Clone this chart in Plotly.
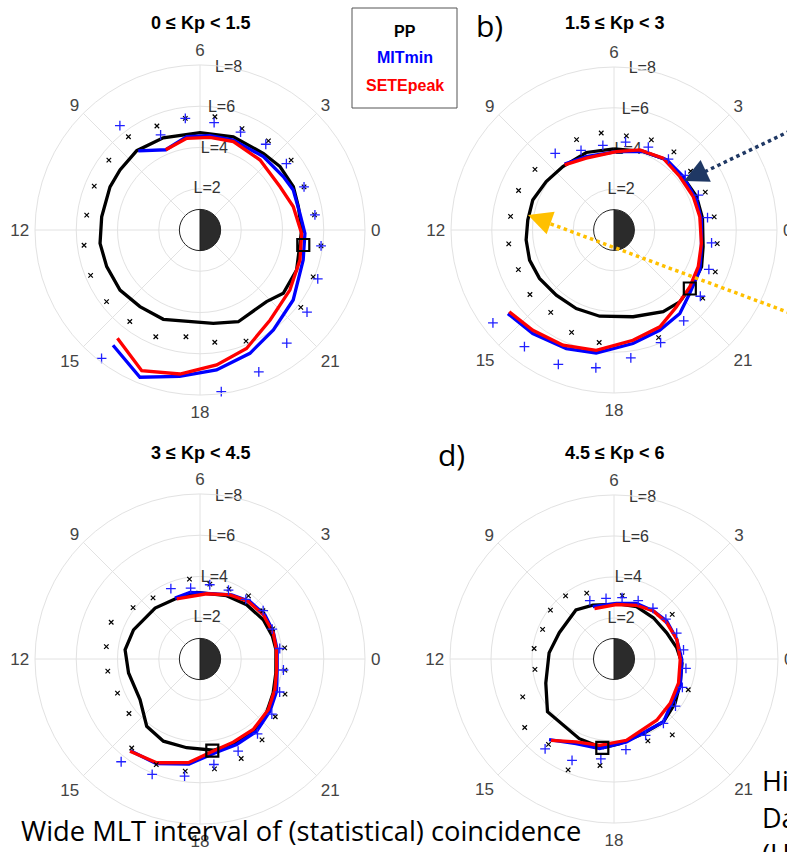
import plotly.graph_objects as go

W, H = 787, 852

# ---------------- DATA (MLT hours, L-shell) ----------------
titles = ["0 \u2264 Kp < 1.5", "1.5 \u2264 Kp < 3", "3 \u2264 Kp < 4.5", "4.5 \u2264 Kp < 6"]
mlt_tick_vals = [0, 3, 6, 9, 12, 15, 18, 21]
mlt_tick_text = ["0", "3", "6", "9", "12", "15", "18", "21"]
L_ticks = [2, 4, 6, 8]
L_tick_text = ["L=2", "L=4", "L=6", "L=8"]

# Panel a
pp_a_mlt = [0, 0.89, 1.66, 2.56, 3.35, 4.69, 6.0, 7.45, 8.57, 9.54, 10.29, 11.49, 12.51, 13.43, 14.46, 15.46, 16.51, 18.54, 19.51, 20.86, 21.52, 22.5, 24]
pp_a_L = [4.93, 4.9, 4.99, 4.95, 4.82, 4.8, 4.72, 4.81, 4.92, 4.85, 4.84, 4.81, 4.89, 4.86, 4.85, 4.72, 4.68, 4.57, 4.82, 4.74, 5.07, 5.07, 4.93]
mit_a_mlt = [8.53, 7.54, 6.54, 5.6, 4.65, 3.28, 2.17, 1.55, 0.63, 23.88, 22.92, 21.54, 20.42, 19.47, 18.45, 17.47, 16.52, 15.53]
mit_a_L = [4.87, 4.23, 4.57, 4.6, 4.65, 4.7, 4.8, 4.92, 4.91, 5.09, 5.21, 5.65, 6.01, 6.45, 6.83, 7.17, 7.71, 7.0]
sete_a_mlt = [7.54, 6.55, 5.59, 4.62, 3.29, 1.89, 0.94, 23.87, 22.89, 21.75, 20.53, 19.43, 18.47, 17.47, 16.5, 15.51]
sete_a_L = [4.23, 4.49, 4.52, 4.58, 4.47, 4.41, 4.66, 4.93, 5.06, 5.24, 5.53, 6.17, 6.59, 7.05, 7.38, 6.6]
ppx_a_mlt = [0.5, 1.5, 2.5, 3.5, 4.5, 5.5, 6.5, 7.5, 8.5, 9.5, 10.5, 11.5, 12.5, 13.5, 14.5, 15.5, 16.5, 17.5, 18.5, 19.5, 21.5, 22.5, 23.5]
ppx_a_L = [5.6, 5.46, 5.57, 5.45, 5.32, 5.54, 5.46, 5.46, 5.7, 5.57, 5.55, 5.54, 5.67, 5.74, 5.71, 5.59, 5.6, 5.22, 5.49, 5.83, 6.16, 5.94, 5.92]
mitp_a_mlt = [0.5, 1.5, 2.5, 3.5, 4.5, 5.5, 6.5, 7.5, 8.5, 15.5, 18.5, 19.5, 20.5, 21.5, 22.5, 23.5]
mitp_a_L = [5.62, 5.46, 5.28, 5.24, 5.14, 5.25, 5.46, 4.99, 6.38, 7.84, 7.9, 7.45, 6.91, 6.54, 6.18, 5.92]
sq_a = (23.45, 5.06)

# Panel b
pp_b_mlt = [6.0, 4.65, 3.55, 2.35, 1.47, 0.5, 23.29, 22.48, 21.73, 20.83, 20.07, 18.83, 17.37, 16.29, 15.23, 14.2, 13.31, 12.43, 11.56, 10.65, 9.63, 8.59, 7.31, 6.0]
pp_b_L = [3.98, 4.11, 4.3, 4.26, 4.37, 4.38, 4.45, 4.66, 4.69, 4.78, 4.68, 4.36, 4.29, 4.28, 4.27, 4.36, 4.4, 4.34, 4.26, 4.25, 4.09, 4.0, 4.04, 3.98]
mit_b_mlt = [14.55, 15.46, 16.54, 17.45, 18.63, 19.63, 20.55, 21.33, 22.33, 23.28, 0.44, 1.33, 2.51, 3.55, 4.65, 5.89, 7.38, 8.46]
mit_b_L = [6.63, 6.46, 6.27, 6.1, 5.65, 5.41, 5.22, 4.85, 4.65, 4.37, 4.32, 4.31, 4.29, 4.3, 4.11, 3.85, 3.85, 4.04]
sete_b_mlt = [14.53, 15.4, 16.41, 17.44, 18.65, 19.69, 20.6, 21.55, 22.43, 23.42, 0.59, 1.53, 2.61, 3.71, 4.81, 5.89, 7.41, 8.48]
sete_b_L = [6.52, 6.33, 6.18, 5.97, 5.49, 5.26, 4.86, 4.65, 4.51, 4.34, 4.26, 4.22, 4.16, 4.27, 4.13, 3.85, 3.78, 4.01]
ppx_b_mlt = [0.5, 1.5, 2.5, 3.5, 4.5, 5.5, 6.5, 7.5, 9.5, 10.5, 11.5, 12.5, 13.5, 14.5, 15.5, 16.5, 17.5, 19.5, 21.5, 22.5, 23.5]
ppx_b_L = [4.96, 4.85, 4.74, 4.83, 4.79, 4.66, 4.8, 4.8, 4.89, 5.07, 5.12, 5.21, 5.08, 5.2, 5.1, 5.44, 5.57, 5.72, 5.49, 5.38, 5.11]
mitp_b_mlt = [0.5, 1.5, 2.5, 3.5, 4.5, 5.5, 6.5, 7.5, 8.5, 14.5, 15.5, 16.5, 17.5, 18.5, 19.5, 20.5, 21.5, 22.5, 23.5]
mitp_b_L = [4.63, 4.48, 4.41, 4.39, 4.4, 4.35, 4.19, 4.23, 4.74, 7.49, 7.22, 7.14, 6.82, 6.33, 5.98, 5.62, 5.34, 5.04, 4.83]
sq_b = (21.49, 4.7)

# Panel c
pp_c_mlt = [18.55, 17.43, 16.4, 15.44, 14.27, 12.74, 11.53, 10.42, 8.76, 7.51, 6.19, 4.48, 3.29, 2.12, 1.16, 0.47, 23.3, 22.34, 21.4, 20.43, 19.42, 18.55]
pp_c_L = [4.47, 4.35, 4.36, 4.16, 3.51, 3.53, 3.66, 3.52, 3.29, 3.15, 3.23, 3.33, 3.47, 3.61, 3.68, 3.71, 3.74, 3.91, 4.15, 4.35, 4.45, 4.47]
mit_c_mlt = [15.52, 16.49, 17.6, 18.67, 19.55, 20.54, 21.55, 22.47, 23.47, 0.46, 1.38, 2.29, 3.27, 4.25, 5.61, 6.57, 7.49]
mit_c_L = [5.58, 5.5, 5.12, 4.59, 4.51, 4.45, 4.23, 4.03, 3.78, 3.77, 3.79, 3.81, 3.69, 3.47, 3.2, 3.26, 3.19]
sete_c_mlt = [15.52, 16.49, 17.57, 18.55, 19.45, 20.47, 21.56, 22.52, 23.47, 0.46, 1.3, 2.33, 3.33, 4.33, 5.61, 7.41]
sete_c_L = [5.61, 5.45, 5.06, 4.51, 4.34, 4.28, 4.12, 3.92, 3.75, 3.73, 3.77, 3.74, 3.64, 3.43, 3.18, 3.13]
ppx_c_mlt = [0.5, 1.5, 2.5, 3.5, 4.5, 5.5, 6.5, 8.5, 9.5, 10.5, 11.5, 12.5, 13.5, 14.5, 15.5, 16.5, 17.5, 18.5, 19.5, 20.5, 21.5, 22.5, 23.5]
ppx_c_L = [4.14, 3.81, 3.84, 3.86, 3.67, 3.66, 3.91, 3.74, 4.09, 4.66, 4.58, 4.51, 4.33, 4.34, 5.44, 5.54, 5.48, 5.37, 5.22, 4.94, 4.6, 4.46, 4.15]
mitp_c_mlt = [0.5, 1.5, 2.5, 3.5, 4.5, 5.5, 6.5, 7.5, 15.5, 16.5, 17.5, 18.5, 19.5, 20.5, 21.5, 22.5, 23.5]
mitp_c_L = [3.9, 3.79, 3.86, 3.65, 3.61, 3.63, 3.47, 3.69, 6.28, 6.06, 5.73, 5.16, 4.83, 4.58, 4.39, 4.18, 4.08]
sq_c = (18.51, 4.48)

# Panel d
pp_d_mlt = [17.5, 16.43, 14.56, 13.3, 11.64, 10.29, 8.52, 7.43, 5.6, 4.45, 3.09, 1.76, 0.67, 23.77, 22.66, 21.6, 20.55, 19.43, 18.26, 17.5]
pp_d_L = [4.37, 4.24, 4.14, 3.53, 3.18, 2.96, 3.03, 2.82, 2.69, 2.78, 2.78, 2.87, 3.11, 3.32, 3.44, 3.68, 3.9, 3.91, 4.14, 4.37]
mit_d_mlt = [15.41, 16.39, 17.39, 18.57, 20.55, 21.31, 22.49, 23.96, 1.15, 2.38, 3.38, 4.53, 5.84, 7.47]
mit_d_L = [5.05, 4.53, 4.43, 4.09, 3.9, 3.59, 3.5, 3.31, 3.21, 3.17, 3.03, 2.92, 2.71, 2.76]
sete_d_mlt = [15.48, 16.36, 17.37, 18.58, 20.33, 21.45, 22.63, 23.96, 1.15, 2.3, 3.38, 4.49, 5.83, 7.41]
sete_d_L = [5.02, 4.45, 4.27, 4.01, 3.64, 3.49, 3.36, 3.23, 3.21, 3.12, 3.03, 2.84, 2.66, 2.64]
ppx_d_mlt = [2.5, 5.5, 7.5, 8.5, 9.5, 10.5, 11.5, 12.5, 13.5, 14.5, 15.5, 16.5, 17.5, 19.5, 20.5, 22.5]
ppx_d_L = [3.58, 3.11, 3.48, 3.88, 3.91, 3.77, 3.93, 3.89, 4.82, 5.49, 5.25, 5.85, 5.24, 4.32, 4.67, 3.92]
mitp_d_mlt = [0.5, 1.5, 2.5, 3.5, 4.5, 5.5, 6.5, 7.5, 15.5, 16.5, 17.5, 18.5, 19.5, 20.5, 21.5, 22.5, 23.5]
mitp_d_L = [3.42, 3.31, 3.19, 3.12, 3.08, 3.02, 2.98, 3.08, 5.52, 5.35, 4.91, 4.46, 4.03, 3.96, 3.78, 3.61, 3.54]
sq_d = (17.5, 4.37)

# Earth symbol: night half (centred at MLT 0) and day half (centred at MLT 12)
earth_mlt = [0, 12]
earth_L = [1, 1]
earth_width_h = [12, 12]

# ---------------- FIGURE ----------------
def deg(m):
    return [v * 15 for v in m]

panels = [
    dict(pp=(pp_a_mlt, pp_a_L), mit=(mit_a_mlt, mit_a_L), sete=(sete_a_mlt, sete_a_L),
         ppx=(ppx_a_mlt, ppx_a_L), mitp=(mitp_a_mlt, mitp_a_L), sq=sq_a, cx=200, cy=230, R=165, ty=23),
    dict(pp=(pp_b_mlt, pp_b_L), mit=(mit_b_mlt, mit_b_L), sete=(sete_b_mlt, sete_b_L),
         ppx=(ppx_b_mlt, ppx_b_L), mitp=(mitp_b_mlt, mitp_b_L), sq=sq_b, cx=614, cy=230, R=163, ty=23),
    dict(pp=(pp_c_mlt, pp_c_L), mit=(mit_c_mlt, mit_c_L), sete=(sete_c_mlt, sete_c_L),
         ppx=(ppx_c_mlt, ppx_c_L), mitp=(mitp_c_mlt, mitp_c_L), sq=sq_c, cx=200, cy=659, R=165, ty=453),
    dict(pp=(pp_d_mlt, pp_d_L), mit=(mit_d_mlt, mit_d_L), sete=(sete_d_mlt, sete_d_L),
         ppx=(ppx_d_mlt, ppx_d_L), mitp=(mitp_d_mlt, mitp_d_L), sq=sq_d, cx=614, cy=659, R=164, ty=453),
]

fig = go.Figure()
grid = "#e2e2e2"
layout_polars = {}
annotations = []

for i, p in enumerate(panels):
    key = "polar" if i == 0 else f"polar{i+1}"
    sp = key
    cx, cy, R = p["cx"], p["cy"], p["R"]
    layout_polars[key] = dict(
        domain=dict(x=[(cx - R) / W, (cx + R) / W], y=[1 - (cy + R) / H, 1 - (cy - R) / H]),
        bgcolor="rgba(0,0,0,0)",
        bargap=0,
        barmode="overlay",
        radialaxis=dict(range=[0, 8], tickvals=L_ticks, showticklabels=False, showline=False,
                        ticks="", gridcolor=grid, gridwidth=1),
        angularaxis=dict(rotation=0, direction="counterclockwise", tickmode="array",
                         tickvals=deg(mlt_tick_vals), ticktext=mlt_tick_text,
                         gridcolor=grid, gridwidth=1, linecolor=grid, linewidth=1, showline=True,
                         ticks="outside", ticklen=2, tickcolor="rgba(0,0,0,0)",
                         tickfont=dict(size=17, color="#444", family="Liberation Sans, Arial")),
    )
    # L labels
    fig.add_trace(go.Scatterpolar(r=L_ticks, theta=[80] * len(L_ticks), text=L_tick_text, mode="text",
                                  textfont=dict(size=16, color="#333", family="Liberation Sans, Arial"),
                                  subplot=sp, showlegend=False, hoverinfo="skip"))
    # Earth symbol
    fig.add_trace(go.Barpolar(r=earth_L, theta=deg(earth_mlt), width=deg(earth_width_h),
                              marker=dict(color=["#2b2b2b", "white"], line=dict(color="#222", width=1)),
                              subplot=sp, showlegend=False, hoverinfo="skip"))
    # curves
    for (m, L), col in [(p["pp"], "black"), (p["mit"], "#0000ff"), (p["sete"], "#ff0000")]:
        fig.add_trace(go.Scatterpolar(r=L, theta=deg(m), mode="lines",
                                      line=dict(color=col, width=3.3),
                                      subplot=sp, showlegend=False, hoverinfo="skip"))
    # markers
    m, L = p["ppx"]
    fig.add_trace(go.Scatterpolar(r=L, theta=deg(m), mode="markers",
                                  marker=dict(symbol="x-thin", size=4.5, color="black",
                                              line=dict(color="black", width=1.2)),
                                  subplot=sp, showlegend=False, hoverinfo="skip"))
    m, L = p["mitp"]
    fig.add_trace(go.Scatterpolar(r=L, theta=deg(m), mode="markers",
                                  marker=dict(symbol="cross-thin", size=7, color="#2020ff",
                                              line=dict(color="#2020ff", width=1.3)),
                                  subplot=sp, showlegend=False, hoverinfo="skip"))
    fig.add_trace(go.Scatterpolar(r=[p["sq"][1]], theta=deg([p["sq"][0]]), mode="markers",
                                  marker=dict(symbol="square-open", size=12, color="black",
                                              line=dict(color="black", width=2.2)),
                                  subplot=sp, showlegend=False, hoverinfo="skip"))
    annotations.append(dict(x=cx / W, y=1 - p["ty"] / H, xref="paper", yref="paper",
                            text="<b>" + titles[i] + "</b>", showarrow=False,
                            font=dict(size=18, color="black", family="Liberation Sans, Arial"),
                            xanchor="center", yanchor="middle"))

def px(x):
    return x / W

def py(y):
    return 1 - y / H

# panel letters
annotations.append(dict(x=px(490), y=py(25), text="b)", showarrow=False, xref="paper", yref="paper",
                        font=dict(size=30, color="black", family="Open Sans"), xanchor="center", yanchor="middle"))
annotations.append(dict(x=px(451), y=py(454), text="d)", showarrow=False, xref="paper", yref="paper",
                        font=dict(size=30, color="black", family="Open Sans"), xanchor="center", yanchor="middle"))

# legend box texts
for txt, col, yy in [("PP", "black", 32), ("MITmin", "#0000ff", 58), ("SETEpeak", "#ff0000", 85)]:
    annotations.append(dict(x=px(405), y=py(yy), text="<b>" + txt + "</b>", showarrow=False,
                            xref="paper", yref="paper", xanchor="center", yanchor="middle",
                            font=dict(size=16, color=col, family="Liberation Sans, Arial")))

# slide texts
annotations.append(dict(x=px(19), y=py(830), text="Wide MLT interval of (statistical) coincidence",
                        showarrow=False, xref="paper", yref="paper", xanchor="left", yanchor="middle",
                        font=dict(size=27.3, color="black", family="Open Sans")))
for txt, yy in [("Hi", 780), ("Da", 817), ("(H", 854)]:
    annotations.append(dict(x=px(760), y=py(yy), text=txt, showarrow=False, xref="paper", yref="paper",
                            xanchor="left", yanchor="middle",
                            font=dict(size=27, color="black", family="Open Sans")))

# arrowheads
annotations.append(dict(x=px(684), y=py(181), ax=17, ay=-8, text="", showarrow=True, xref="paper", yref="paper",
                        arrowhead=2, arrowsize=1.6, arrowwidth=3, arrowcolor="#1f3864"))
annotations.append(dict(x=px(528), y=py(215), ax=17, ay=6, text="", showarrow=True, xref="paper", yref="paper",
                        arrowhead=2, arrowsize=1.6, arrowwidth=3, arrowcolor="#ffc000"))

shapes = [
    dict(type="rect", xref="paper", yref="paper", x0=px(352), x1=px(457), y0=py(108), y1=py(8),
         line=dict(color="#555", width=1), fillcolor="white", layer="above"),
    dict(type="line", xref="paper", yref="paper", x0=px(790), y0=py(131), x1=px(698), y1=py(175),
         line=dict(color="#1f3864", width=3.5, dash="dot")),
    dict(type="line", xref="paper", yref="paper", x0=px(790), y0=py(313), x1=px(543), y1=py(221),
         line=dict(color="#ffc000", width=3.5, dash="dot")),
]

fig.update_layout(width=W, height=H, margin=dict(l=0, r=0, t=0, b=0),
                  paper_bgcolor="white", plot_bgcolor="white",
                  annotations=annotations, shapes=shapes, **layout_polars)

fig.write_html("out.html", config={"displayModeBar": False},
               post_script="document.body.style.margin='0';")
